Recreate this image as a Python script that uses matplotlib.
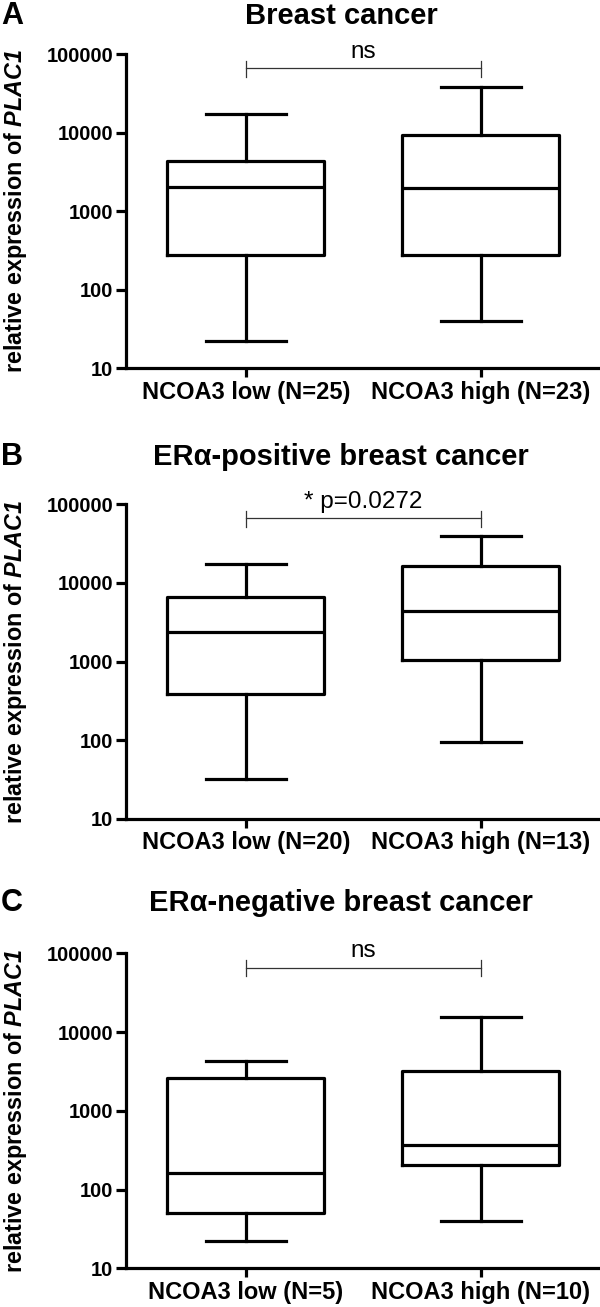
import matplotlib
matplotlib.use('Agg')
import matplotlib.pyplot as plt
from matplotlib.ticker import NullLocator

plt.rcParams['font.family'] = ['Liberation Sans', 'DejaVu Sans']
plt.rcParams['mathtext.fontset'] = 'custom'
plt.rcParams['mathtext.it'] = 'Liberation Sans:italic:bold'
plt.rcParams['mathtext.rm'] = 'Liberation Sans:italic:bold'
plt.rcParams['mathtext.bf'] = 'Liberation Sans:italic:bold'

# ---------------- data ----------------
panel_letters = ['A', 'B', 'C']
panel_titles = ['Breast cancer',
                'ERα-positive breast cancer',
                'ERα-negative breast cancer']
group_labels = [['NCOA3 low (N=25)', 'NCOA3 high (N=23)'],
                ['NCOA3 low (N=20)', 'NCOA3 high (N=13)'],
                ['NCOA3 low (N=5)', 'NCOA3 high (N=10)']]
significance = ['ns', '* p=0.0272', 'ns']

# five-number summaries: [min, Q1, median, Q3, max]
all_low = [22, 278, 2060, 4340, 17500]
all_high = [40, 278, 1960, 9480, 38700]
erpos_low = [32, 388, 2380, 6700, 17600]
erpos_high = [95, 1050, 4400, 16600, 39600]
erneg_low = [22, 50, 164, 2590, 4290]
erneg_high = [40, 207, 365, 3170, 15700]

panel_data = [[all_low, all_high], [erpos_low, erpos_high], [erneg_low, erneg_high]]

ytick_vals = [10, 100, 1000, 10000, 100000]
ytick_labels = ['10', '100', '1000', '10000', '100000']
ylabel = r'relative expression of $\mathrm{PLAC1}$'

# ---------------- layout ----------------
W, H = 600, 1307
fig = plt.figure(figsize=(W / 100, H / 100), dpi=100)

axes_px = [(54.3, 368.3), (504.3, 819.0), (953.3, 1268.3)]  # (top, bottom) in px
title_y_px = [16, 457, 903]
left_px, right_px = 126, 598

for i in range(3):
    top, bot = axes_px[i]
    ax = fig.add_axes([left_px / W, 1 - bot / H, (right_px - left_px) / W, (bot - top) / H])
    stats = []
    for d, lab in zip(panel_data[i], group_labels[i]):
        stats.append(dict(whislo=d[0], q1=d[1], med=d[2], q3=d[3], whishi=d[4], label=lab))
    lw = 2.3
    ax.bxp(stats, positions=[1, 2], widths=0.67, capwidths=0.34, showfliers=False,
           boxprops=dict(color='black', linewidth=lw),
           whiskerprops=dict(color='black', linewidth=lw),
           capprops=dict(color='black', linewidth=lw),
           medianprops=dict(color='black', linewidth=lw))
    ax.set_yscale('log')
    ax.set_ylim(10, 100000)
    ax.set_xlim(0.49, 2.5)
    ax.set_yticks(ytick_vals)
    ax.set_yticklabels(ytick_labels)
    ax.yaxis.set_minor_locator(NullLocator())
    ax.set_xticks([1, 2])
    ax.set_xticklabels(group_labels[i])
    for s in ['top', 'right']:
        ax.spines[s].set_visible(False)
    for s in ['left', 'bottom']:
        ax.spines[s].set_linewidth(lw)
    ax.tick_params(axis='y', length=7.5, width=lw, labelsize=14.5, pad=1.5)
    ax.tick_params(axis='x', length=6.5, width=lw, labelsize=17, pad=2.5)
    for t in ax.get_yticklabels() + ax.get_xticklabels():
        t.set_fontweight('bold')
    ax.patch.set_visible(False)

    # significance bracket
    ax.plot([1, 2], [66000, 66000], color='#333333', lw=0.9, clip_on=False)
    ax.plot([1, 1], [51500, 82000], color='#333333', lw=0.9, clip_on=False)
    ax.plot([2, 2], [51500, 82000], color='#333333', lw=0.9, clip_on=False)
    ax.text(1.5, 89000, significance[i], ha='center', va='baseline', fontsize=17.5,
            clip_on=False)

    # titles and letters
    fig.text(341 / W, 1 - title_y_px[i] / H, panel_titles[i], ha='center', va='center',
             fontsize=21, fontweight='bold')
    fig.text(1 / W, 1 - title_y_px[i] / H, panel_letters[i], ha='left', va='center',
             fontsize=22, fontweight='bold')
    fig.text(16 / W, 1 - (top + bot) / 2 / H, ylabel, rotation=90, ha='center', va='center',
             fontsize=16.8, fontweight='bold')

fig.savefig('out.png', dpi=100)
